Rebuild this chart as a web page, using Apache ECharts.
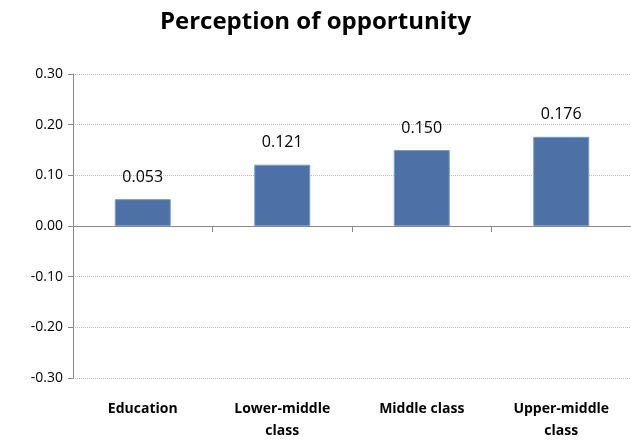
<!DOCTYPE html>
<html>
<head>
<meta charset="utf-8">
<script src="https://cdn.jsdelivr.net/npm/echarts@6/dist/echarts.min.js"></script>
</head>
<body style="margin:0">
<div id="chart" style="width:631px;height:446px;"></div>
<script>
var categories = ['Education', 'Lower-middle\nclass', 'Middle class', 'Upper-middle\nclass'];
var values = [0.053, 0.121, 0.150, 0.176];
var chart = echarts.init(document.getElementById('chart'));
chart.setOption({
  title: { text: 'Perception of opportunity', left: 'center', top: 5,
    textStyle: { fontFamily: 'Open Sans', fontWeight: 'bold', fontSize: 24, color: '#000' } },
  grid: { left: 73, right: 0, top: 74, bottom: 68 },
  xAxis: [{
    type: 'category', data: categories,
    axisLine: { onZero: true, lineStyle: { color: '#888' } },
    axisTick: { show: true, length: 6, lineStyle: { color: '#888' } },
    axisLabel: { show: false }
  }, {
    type: 'category', data: categories, position: 'bottom',
    axisLine: { show: false }, axisTick: { show: false },
    axisLabel: { fontFamily: 'Open Sans', fontWeight: 'bold', fontSize: 14, color: '#000', margin: 20, lineHeight: 22 }
  }],
  yAxis: {
    type: 'value', min: -0.3, max: 0.3, interval: 0.1,
    axisLine: { show: true, lineStyle: { color: '#888' } },
    axisTick: { show: true, length: 5, lineStyle: { color: '#888' } },
    axisLabel: { fontFamily: 'Open Sans', fontSize: 14, color: '#000', margin: 10,
      formatter: function (v) { return v.toFixed(2); } },
    splitLine: { lineStyle: { type: 'dotted', color: '#bbb' } }
  },
  series: [{
    type: 'bar', data: values, barWidth: 56,
    itemStyle: { color: '#4d71a6', borderColor: '#7d9ac4', borderWidth: 1 },
    label: { show: true, position: 'top', distance: 14, fontFamily: 'Open Sans', fontSize: 16, color: '#000',
      formatter: function (p) { return p.value.toFixed(3); } }
  }]
});
</script>
</body>
</html>
